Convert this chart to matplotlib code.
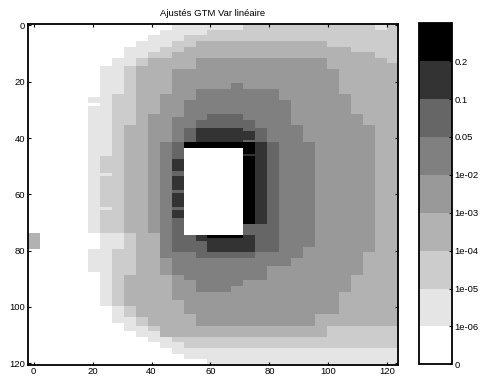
import numpy as np
import matplotlib
matplotlib.use("Agg")
import matplotlib.pyplot as plt
from matplotlib.colors import ListedColormap, BoundaryNorm

plt.rcParams['font.family'] = ['Liberation Sans', 'DejaVu Sans']

# class boundaries of the colour scale and their labels
bounds = [0, 1e-6, 1e-5, 1e-4, 1e-3, 1e-2, 0.05, 0.1, 0.2, 0.4]
bound_labels = ['0', '1e-06', '1e-05', '1e-04', '1e-03', '1e-02', '0.05', '0.1', '0.2']
grays = ['#ffffff', '#e5e5e5', '#cccccc', '#b2b2b2', '#999999',
         '#808080', '#666666', '#333333', '#000000']
# representative value of each class
class_values = [0.0, 3e-6, 3e-5, 3e-4, 3e-3, 3e-2, 0.07, 0.15, 0.3]

n_rows, n_cols = 121, 31
x_edges = (-2.0, 123.5)

# regions where the class is at least L: (first_row, last_row, first_col, last_col)
level_1 = [(0, 1, 12, 30), (2, 3, 11, 30), (4, 5, 10, 30), (6, 7, 9, 30), (8, 11, 8, 30),
           (12, 14, 7, 30), (15, 25, 6, 30), (26, 27, 5, 30), (28, 28, 6, 30), (29, 73, 5, 30),
           (74, 79, 6, 30), (80, 87, 5, 30), (88, 99, 6, 30), (100, 105, 7, 30), (106, 108, 8, 30),
           (109, 110, 9, 30), (111, 112, 10, 30), (113, 114, 11, 30), (115, 116, 12, 30),
           (117, 118, 13, 30), (119, 120, 15, 30)]
level_2 = [(0, 1, 18, 30), (2, 3, 15, 30), (4, 5, 13, 30), (6, 7, 12, 30), (8, 9, 11, 30),
           (10, 11, 10, 30), (12, 14, 9, 30), (15, 24, 8, 30), (25, 46, 7, 30), (47, 73, 6, 30),
           (74, 79, 8, 30), (80, 99, 7, 30), (100, 103, 8, 30), (104, 106, 9, 30),
           (107, 108, 10, 30), (109, 110, 11, 30), (111, 112, 12, 30), (113, 114, 13, 30)]
level_3 = [(6, 7, 14, 24), (8, 9, 13, 26), (10, 11, 12, 28), (12, 14, 10, 30), (15, 35, 9, 30),
           (36, 73, 8, 30), (74, 88, 9, 30), (89, 99, 8, 30), (100, 103, 9, 30),
           (104, 106, 10, 30), (107, 110, 11, 24)]
level_4 = [(12, 15, 14, 24), (16, 24, 12, 25), (25, 31, 11, 26), (32, 35, 10, 27),
           (36, 73, 10, 28), (74, 80, 11, 28), (81, 88, 11, 27), (89, 94, 12, 26),
           (95, 97, 12, 25), (98, 102, 13, 25), (103, 106, 14, 23)]
level_5 = [(21, 22, 17, 17), (23, 26, 14, 20), (27, 32, 13, 21), (33, 35, 12, 21),
           (36, 41, 12, 22), (42, 78, 11, 23), (79, 82, 11, 22), (83, 85, 12, 21),
           (86, 88, 12, 19), (89, 90, 13, 19), (91, 92, 14, 17), (93, 94, 14, 16)]
level_6 = [(32, 33, 15, 17), (34, 36, 14, 18), (37, 41, 13, 19), (42, 80, 12, 20),
           (81, 82, 14, 18)]
level_7 = [(37, 41, 14, 17), (38, 40, 18, 18), (42, 70, 19, 19), (75, 76, 14, 18),
           (77, 80, 15, 18), (48, 51, 12, 12), (54, 58, 12, 12), (60, 64, 12, 12),
           (66, 68, 12, 12)]
level_8 = [(42, 43, 13, 17), (42, 70, 18, 18), (75, 75, 15, 17)]
levels = [level_1, level_2, level_3, level_4, level_5, level_6, level_7, level_8]

# single cells that break the nesting: (first_row, last_row, first_col, last_col, class)
patches = [(44, 44, 6, 6, 1), (53, 53, 6, 6, 1), (65, 65, 6, 6, 1), (0, 1, 29, 29, 1),
           (12, 13, 30, 30, 2), (46, 46, 18, 18, 7), (74, 79, 0, 0, 3)]
# empty block (no data)
hole = (44, 74, 13, 17)

cls = np.zeros((n_rows, n_cols), dtype=int)
for lev, spans in enumerate(levels, start=1):
    for r0, r1, c0, c1 in spans:
        block = cls[r0:r1 + 1, c0:c1 + 1]
        cls[r0:r1 + 1, c0:c1 + 1] = np.maximum(block, lev)
for r0, r1, c0, c1, lev in patches:
    cls[r0:r1 + 1, c0:c1 + 1] = lev
r0, r1, c0, c1 = hole
cls[r0:r1 + 1, c0:c1 + 1] = 0
field = np.array(class_values)[cls]

cmap = ListedColormap(grays)
norm = BoundaryNorm(bounds, cmap.N)

W, H = 483, 381
fs = 6.8
fig = plt.figure(figsize=(W / 100, H / 100), dpi=100)
ax = fig.add_axes([27.7 / W, 1 - 364.7 / H, 370 / W, 340.7 / H])
im = ax.imshow(field, cmap=cmap, norm=norm, interpolation='nearest', aspect='auto',
               extent=(x_edges[0], x_edges[1], 120.5, -0.5))
ax.set_xlim(*x_edges)
ax.set_ylim(120.5, -0.5)
ax.set_xticks(range(0, 121, 20))
ax.set_yticks(range(0, 121, 20))
ax.tick_params(direction='in', length=2.5, width=0.8, top=True, right=True,
               labelsize=fs, pad=2)
for s in ax.spines.values():
    s.set_linewidth(1.3)
ax.set_title('Ajustés GTM Var linéaire', fontsize=fs, pad=5.5)

cax = fig.add_axes([419 / W, 1 - 364.3 / H, 33 / W, 341 / H])
cb = fig.colorbar(im, cax=cax, boundaries=bounds, ticks=bounds[:-1], spacing='uniform')
cb.set_ticklabels(bound_labels)
cb.outline.set_linewidth(1.3)
cax.tick_params(direction='in', length=2.5, width=0.8, labelsize=fs, pad=2)
cax.minorticks_off()

fig.savefig('out.png', dpi=100)
